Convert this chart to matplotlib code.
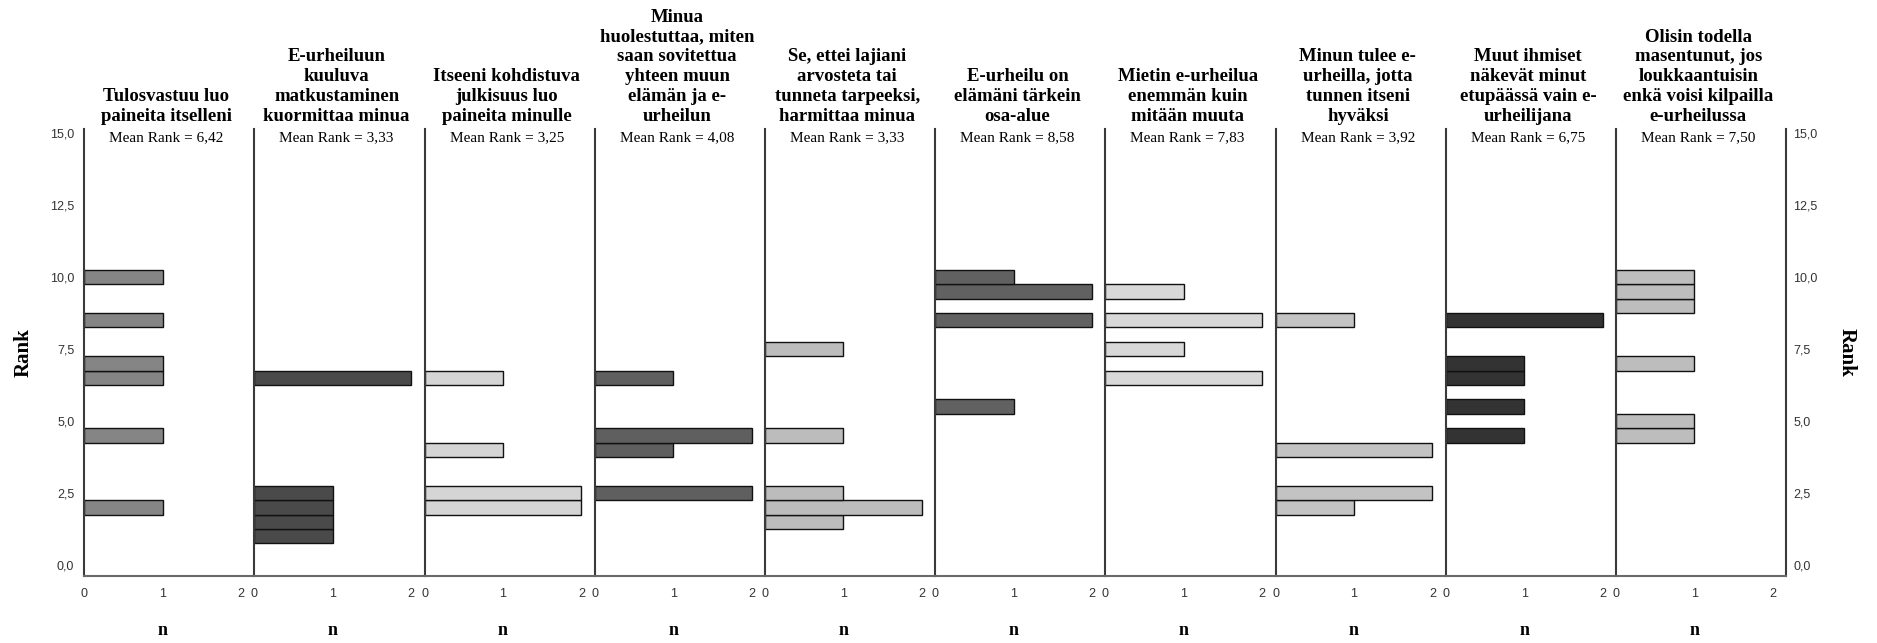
import matplotlib.pyplot as plt

# Item titles (wrapped as in the original)
titles = [
    "Tulosvastuu luo\npaineita itselleni",
    "E-urheiluun\nkuuluva\nmatkustaminen\nkuormittaa minua",
    "Itseeni kohdistuva\njulkisuus luo\npaineita minulle",
    "Minua\nhuolestuttaa, miten\nsaan sovitettua\nyhteen muun\nelämän ja e-\nurheilun",
    "Se, ettei lajiani\narvosteta tai\ntunneta tarpeeksi,\nharmittaa minua",
    "E-urheilu on\nelämäni tärkein\nosa-alue",
    "Mietin e-urheilua\nenemmän kuin\nmitään muuta",
    "Minun tulee e-\nurheilla, jotta\ntunnen itseni\nhyväksi",
    "Muut ihmiset\nnäkevät minut\netupäässä vain e-\nurheilijana",
    "Olisin todella\nmasentunut, jos\nloukkaantuisin\nenkä voisi kilpailla\ne-urheilussa",
]

mean_rank_labels = ["6,42", "3,33", "3,25", "4,08", "3,33",
                    "8,58", "7,83", "3,92", "6,75", "7,50"]

# Rank bins (centre of each bar) and the count in each bin
ranks = [
    [2.0, 4.5, 6.5, 7.0, 8.5, 10.0],
    [1.0, 1.5, 2.0, 2.5, 6.5],
    [2.0, 2.5, 4.0, 6.5],
    [2.5, 4.0, 4.5, 6.5],
    [1.5, 2.0, 2.5, 4.5, 7.5],
    [5.5, 8.5, 9.5, 10.0],
    [6.5, 7.5, 8.5, 9.5],
    [2.0, 2.5, 4.0, 8.5],
    [4.5, 5.5, 6.5, 7.0, 8.5],
    [4.5, 5.0, 7.0, 9.0, 9.5, 10.0],
]
counts = [
    [1, 1, 1, 1, 1, 1],
    [1, 1, 1, 1, 2],
    [2, 2, 1, 1],
    [2, 1, 2, 1],
    [1, 2, 1, 1, 1],
    [1, 2, 2, 1],
    [2, 1, 2, 1],
    [1, 2, 2, 1],
    [1, 1, 1, 1, 2],
    [1, 1, 1, 1, 1, 1],
]

colors = ["#858585", "#4a4a4a", "#d5d5d5", "#5f5f5f", "#bcbcbc",
          "#616161", "#d8d8d8", "#c3c3c3", "#333333", "#bdbdbd"]

yticks = [0, 2.5, 5, 7.5, 10, 12.5, 15]
ytick_labels = ["0,0", "2,5", "5,0", "7,5", "10,0", "12,5", "15,0"]

serif = ["Liberation Serif", "DejaVu Serif"]
sans = ["Liberation Sans", "DejaVu Sans"]

fig = plt.figure(figsize=(18.77, 6.43), dpi=100)

left, bottom, width, height = 0.0448, 0.1042, 0.09068, 0.6952
n_panels = len(titles)

for i in range(n_panels):
    ax = fig.add_axes([left + i * width, bottom, width, height])
    ax.barh(ranks[i], counts[i], height=0.5, color=colors[i],
            edgecolor="#111111", linewidth=1.0)
    ax.set_xlim(0, 2.17)
    ax.set_ylim(-0.38, 15.14)

    ax.spines["top"].set_visible(False)
    ax.spines["right"].set_visible(i == n_panels - 1)
    ax.spines["left"].set_color("#3a3a3a")
    ax.spines["right"].set_color("#3a3a3a")
    ax.spines["bottom"].set_color("#6a6a6a")
    for s in ax.spines.values():
        s.set_linewidth(1.5)

    ax.set_xticks([0, 1, 2])
    ax.set_xticklabels(["0", "1", "2"], family=sans, fontsize=9, color="#333333")
    ax.tick_params(axis="x", length=0, pad=9)

    ax.set_yticks(yticks)
    if i == 0:
        ax.set_yticklabels(ytick_labels, family=sans, fontsize=9, color="#333333")
        ax.tick_params(axis="y", length=0, pad=7)
        ax.set_ylabel("Rank", family=serif, fontsize=15, fontweight="bold", labelpad=12)
    elif i == n_panels - 1:
        ax.yaxis.tick_right()
        ax.yaxis.set_label_position("right")
        ax.set_yticklabels(ytick_labels, family=sans, fontsize=9, color="#333333")
        ax.tick_params(axis="y", length=0, pad=5)
        ax.set_ylabel("Rank", family=serif, fontsize=15, fontweight="bold",
                      rotation=270, labelpad=28)
    else:
        ax.tick_params(axis="y", left=False, labelleft=False)

    ax.text(1, -0.121, "n", transform=ax.get_xaxis_transform(), ha="center", va="center",
            family=serif, fontsize=13, fontweight="bold")
    ax.text(1.05, 14.85, "Mean Rank = " + mean_rank_labels[i], ha="center", va="center",
            family=serif, fontsize=11)
    ax.text(0.484, 1.009, titles[i], transform=ax.transAxes, ha="center", va="bottom",
            multialignment="center", family=serif, fontsize=13.5, fontweight="bold",
            linespacing=1.22)

plt.savefig("out.png", dpi=100)
